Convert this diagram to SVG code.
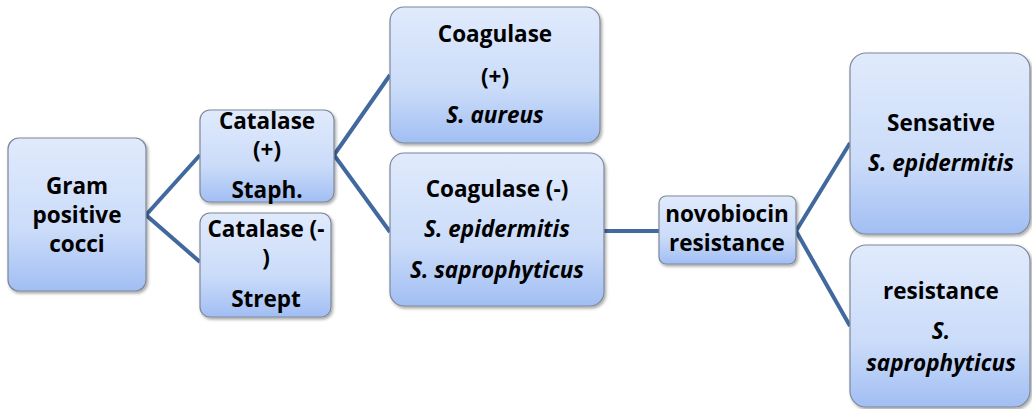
<svg xmlns="http://www.w3.org/2000/svg" width="1032" height="409" viewBox="0 0 1032 409">
<defs>
<linearGradient id="g" x1="0" y1="0" x2="0" y2="1">
<stop offset="0" stop-color="#e0eafc"/>
<stop offset="0.6" stop-color="#cbdcf9"/>
<stop offset="1" stop-color="#a1bef3"/>
</linearGradient>
<filter id="sh" x="-10%" y="-10%" width="125%" height="125%">
<feDropShadow dx="1.5" dy="2" stdDeviation="1.5" flood-color="#000" flood-opacity="0.35"/>
</filter>
</defs>
<style>
.box{fill:url(#g);stroke:#7d8898;stroke-width:1.2;filter:url(#sh)}
text{font-family:"Open Sans","Liberation Sans",Arial,sans-serif;font-weight:bold;font-size:22.5px;fill:#000;text-anchor:middle}
.i{font-style:italic}
.c{fill:none;stroke:#41699e;stroke-width:4;stroke-linejoin:miter}
</style>
<rect width="1032" height="409" fill="#fff"/>
<g id="connectors">
<polyline class="c" points="200,155 146,215 200,262"/>
<polyline class="c" points="390,75 334,155 390,232"/>
<line class="c" x1="604" y1="231" x2="659" y2="231"/>
<polyline class="c" points="850,143 796,231 850,326"/>
</g>
<g id="gram">
<rect class="box" x="8" y="138" width="138" height="153" rx="11"/>
<text x="77" y="194">Gram</text>
<text x="77" y="223">positive</text>
<text x="77" y="252">cocci</text>
</g>
<g id="catpos">
<rect class="box" x="200" y="110" width="134" height="92" rx="10"/>
<text x="267" y="129">Catalase</text>
<text x="267" y="158">(+)</text>
<text x="267" y="198">Staph.</text>
</g>
<g id="catneg">
<rect class="box" x="200" y="213" width="131" height="104" rx="10"/>
<text x="266" y="237">Catalase (-</text>
<text x="266" y="266">)</text>
<text x="266" y="307">Strept</text>
</g>
<g id="coagpos">
<rect class="box" x="390" y="7" width="210" height="136" rx="14"/>
<text x="495" y="42">Coagulase</text>
<text x="495" y="85">(+)</text>
<text class="i" x="495" y="123">S. aureus</text>
</g>
<g id="coagneg">
<rect class="box" x="390" y="153" width="214" height="153" rx="14"/>
<text x="497" y="197">Coagulase (-)</text>
<text class="i" x="497" y="237">S. epidermitis</text>
<text class="i" x="497" y="278">S. saprophyticus</text>
</g>
<g id="novo">
<rect class="box" x="659" y="196" width="137" height="68" rx="7"/>
<text x="727" y="222">novobiocin</text>
<text x="727" y="251">resistance</text>
</g>
<g id="sens">
<rect class="box" x="850" y="53" width="180" height="181" rx="16"/>
<text x="941" y="131">Sensative</text>
<text class="i" x="941" y="171">S. epidermitis</text>
</g>
<g id="resist">
<rect class="box" x="850" y="245" width="180" height="162" rx="16"/>
<text x="941" y="299">resistance</text>
<text class="i" x="941" y="339">S.</text>
<text class="i" x="941" y="371">saprophyticus</text>
</g>
</svg>
